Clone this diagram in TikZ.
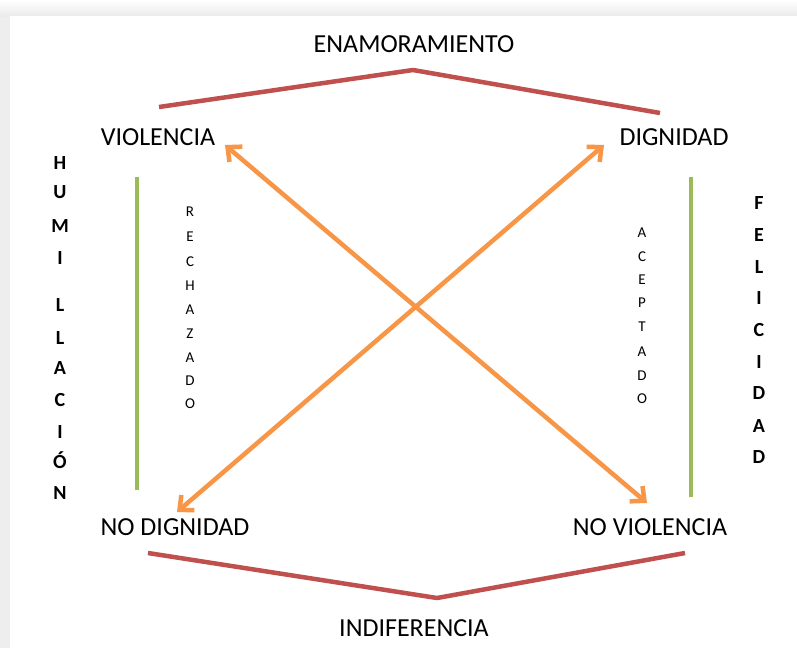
\documentclass[tikz,border=0pt]{standalone}
\usepackage{fontspec}
\setmainfont{Carlito}
\usetikzlibrary{arrows.meta}
\definecolor{ored}{HTML}{C0504D}
\definecolor{ogreen}{HTML}{9BBB59}
\definecolor{oorange}{HTML}{F79646}
\definecolor{bggray}{HTML}{EEEEEE}
\begin{document}
\begin{tikzpicture}[x=1pt,y=-1pt,
  lab/.style={font=\fontsize{26}{26}\selectfont, inner sep=0pt, text height=16.8pt, text depth=0pt},
  bigv/.style={font=\fontsize{20}{20}\selectfont\bfseries, inner sep=0pt, text height=12.9pt, text depth=0pt},
  smallv/.style={font=\fontsize{15}{15}\selectfont, inner sep=0pt, text height=9.7pt, text depth=0pt},
  redline/.style={draw=ored, line width=4.5pt, line join=round},
  greenline/.style={draw=ogreen, line width=4.5pt},
  arr/.style={draw=oorange, line width=4.5pt, {Straight Barb[length=11pt,width=20pt]}-{Straight Barb[length=11pt,width=20pt]}}
]
\useasboundingbox (0,0) rectangle (797,648);
\fill[bggray] (0,0) rectangle (797,648);
\shade[top color=white, bottom color=black!8] (0,0) rectangle (797,16);
\fill[white] (10,16) rectangle (797,648);

% main labels
\node[lab] (ena) at (414,44) {ENAMORAMIENTO};
\node[lab] (vio) at (158,137) {VIOLENCIA};
\node[lab] (dig) at (674,137) {DIGNIDAD};
\node[lab] (nodig) at (175,527) {NO DIGNIDAD};
\node[lab] (novio) at (650,527) {NO VIOLENCIA};
\node[lab] (ind) at (414,628) {INDIFERENCIA};

% red lines
\coordinate (t1) at (159,107);
\coordinate (t2) at (413,70);
\coordinate (t3) at (660,113);
\draw[redline] (t1) -- (t2) -- (t3);
\coordinate (b1) at (148,553);
\coordinate (b2) at (437,598);
\coordinate (b3) at (685,553);
\draw[redline] (b1) -- (b2) -- (b3);

% green lines
\coordinate (g1) at (137,177);
\coordinate (g2) at (137,490);
\draw[greenline] (g1) -- (g2);
\coordinate (g3) at (691,177);
\coordinate (g4) at (691,497);
\draw[greenline] (g3) -- (g4);

% orange arrows
\coordinate (av) at (225,145);
\coordinate (anv) at (647,503);
\coordinate (ad) at (604,145);
\coordinate (and) at (177,512);
\draw[arr] (av) -- (anv);
\draw[arr] (ad) -- (and);

% vertical words
\foreach \l/\yy [count=\i] in {H/163,U/192,M/226,I/258,L/305,L/338,A/368,C/400,I/432,Ó/462,N/493}
  \node[bigv] (h\i) at (60,\yy) {\l};
\foreach \l/\yy [count=\i] in {F/203,E/235,L/267,I/298,C/330,I/362,D/393,A/426,D/457}
  \node[bigv] (f\i) at (759,\yy) {\l};
\foreach \l/\yy [count=\i] in {R/212,E/237,C/262,H/286,A/310,Z/334,A/358,D/381,O/404}
  \node[smallv] (r\i) at (190,\yy) {\l};
\foreach \l/\yy [count=\i] in {A/233,C/257,E/280,P/303,T/327,A/352,D/376,O/399}
  \node[smallv] (a\i) at (642,\yy) {\l};
\end{tikzpicture}
\end{document}
